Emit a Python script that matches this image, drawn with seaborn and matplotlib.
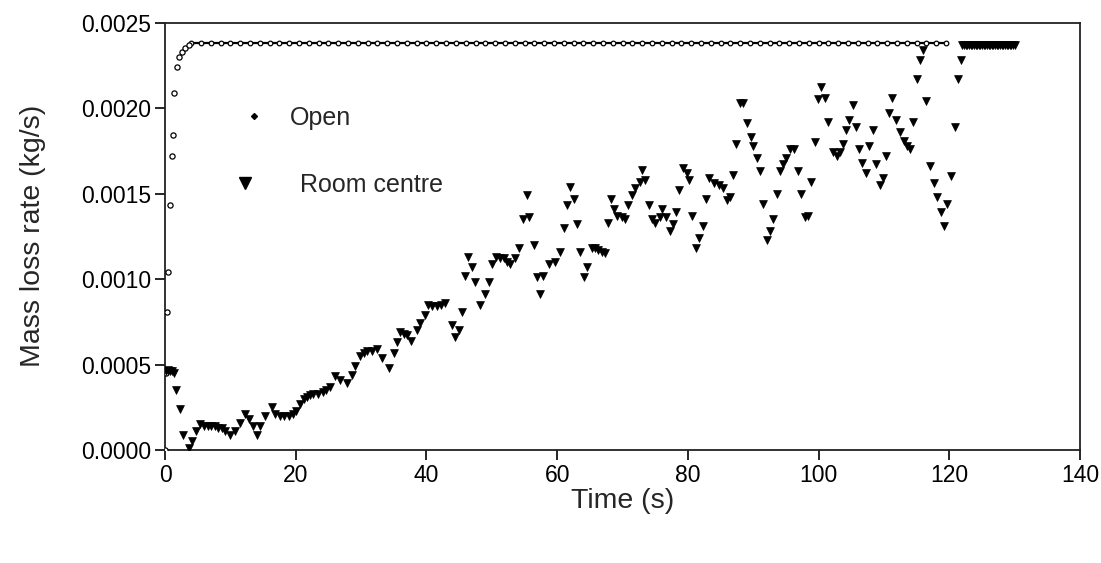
import numpy as np
import pandas as pd
import matplotlib
matplotlib.use("Agg")
import matplotlib.pyplot as plt
import seaborn as sns
from matplotlib.lines import Line2D

# === DATOS ===
# Open: subida rapida y luego meseta
open_rise_t = [0.0, 0.2, 0.35, 0.5, 0.8, 1.0, 1.2, 1.4, 1.8, 2.2, 2.6, 3.1, 3.6]
open_rise_v = [0.0, 0.00045, 0.00081, 0.00104, 0.00143, 0.00172, 0.00184,
               0.00209, 0.00224, 0.00230, 0.00233, 0.00235, 0.00237]
open_plateau_t = np.arange(4.0, 120.5, 1.5)
open_plateau_level = 0.00238

# Room centre
room_t = [0.2, 0.5, 0.8, 1.1, 1.4, 1.7, 2.3, 2.8, 3.7, 4.2, 4.7, 5.4, 5.9, 6.5, 7.0,
          7.6, 8.1, 8.7, 9.2, 9.9, 10.7, 11.5, 12.2, 12.9, 13.5, 14.1, 14.5, 15.3,
          16.3, 16.8, 17.6, 18.2, 18.9, 19.6, 20.1, 20.7, 21.2, 21.7, 22.2, 22.7,
          23.4, 24.2, 24.7, 25.2, 26.0, 26.8, 27.8, 28.6, 29.1, 29.8, 30.4, 30.9,
          31.6, 32.4, 33.2, 34.2, 35.0, 35.5, 36.0, 36.5, 37.0, 37.7, 38.5, 39.0,
          39.8, 40.3, 40.9, 41.6, 42.2, 42.8, 43.9, 44.4, 44.9, 45.4, 45.9, 46.3,
          46.9, 47.4, 48.2, 49.0, 49.6, 50.1, 50.7, 51.3, 51.8, 52.3, 52.8, 53.5,
          54.2, 54.7, 55.4, 55.7, 56.4, 56.9, 57.3, 57.8, 58.7, 59.7, 60.4, 61.0,
          61.5, 62.0, 62.6, 63.0, 63.5, 64.1, 64.5, 65.3, 65.8, 66.3, 66.8, 67.3,
          67.8, 68.3, 68.7, 69.2, 69.9, 70.4, 70.9, 71.4, 71.9, 72.6, 72.9, 73.4,
          74.1, 74.5, 75.0, 75.7, 76.1, 76.6, 77.2, 77.7, 78.1, 78.7, 79.3, 79.8,
          80.2, 80.7, 81.2, 81.7, 82.3, 82.8, 83.3, 84.0, 84.7, 85.4, 86.0, 86.4,
          86.9, 87.4, 88.0, 88.5, 89.0, 89.6, 90.0, 90.6, 91.1, 91.5, 92.1, 92.6,
          93.0, 93.7, 94.1, 94.5, 95.0, 95.6, 96.2, 96.9, 97.3, 97.9, 98.4, 98.8,
          99.4, 99.9, 100.4, 101.0, 101.5, 102.2, 102.8, 103.2, 103.7, 104.2,
          104.6, 105.2, 105.7, 106.1, 106.7, 107.2, 107.7, 108.3, 108.8, 109.4,
          109.8, 110.3, 110.8, 111.3, 111.8, 112.5, 113.0, 113.5, 114.0, 114.4,
          115.0, 115.5, 116.0, 116.5, 117.0, 117.6, 118.1, 118.7, 119.2, 119.7,
          120.2, 120.9, 121.3, 121.8]
room_v = [0.00046, 0.00047, 0.00046, 0.00046, 0.00045, 0.00035, 0.00024, 0.00009,
          0.00001, 0.00005, 0.00011, 0.00015, 0.00014, 0.00014, 0.00014, 0.00014,
          0.00013, 0.00013, 0.00011, 0.00009, 0.00011, 0.00016, 0.00021, 0.00018,
          0.00014, 0.00009, 0.00014, 0.00020, 0.00025, 0.00021, 0.00020, 0.00020,
          0.00020, 0.00021, 0.00023, 0.00027, 0.00030, 0.00031, 0.00032, 0.00033,
          0.00033, 0.00034, 0.00035, 0.00037, 0.00043, 0.00041, 0.00039, 0.00044,
          0.00049, 0.00055, 0.00057, 0.00058, 0.00058, 0.00059, 0.00054, 0.00048,
          0.00057, 0.00063, 0.00069, 0.00068, 0.00067, 0.00064, 0.00070, 0.00074,
          0.00079, 0.00085, 0.00084, 0.00084, 0.00085, 0.00086, 0.00073, 0.00066,
          0.00070, 0.00081, 0.00102, 0.00113, 0.00107, 0.00098, 0.00085, 0.00091,
          0.00098, 0.00109, 0.00113, 0.00112, 0.00112, 0.00110, 0.00109, 0.00112,
          0.00118, 0.00135, 0.00149, 0.00136, 0.00120, 0.00101, 0.00091, 0.00102,
          0.00109, 0.00110, 0.00116, 0.00130, 0.00143, 0.00154, 0.00147, 0.00132,
          0.00116, 0.00101, 0.00107, 0.00118, 0.00118, 0.00117, 0.00116, 0.00115,
          0.00133, 0.00147, 0.00141, 0.00137, 0.00136, 0.00135, 0.00143, 0.00149,
          0.00153, 0.00157, 0.00164, 0.00158, 0.00143, 0.00135, 0.00133, 0.00136,
          0.00141, 0.00136, 0.00128, 0.00132, 0.00139, 0.00152, 0.00165, 0.00162,
          0.00158, 0.00137, 0.00118, 0.00124, 0.00131, 0.00147, 0.00159, 0.00156,
          0.00155, 0.00153, 0.00146, 0.00148, 0.00161, 0.00179, 0.00203, 0.00203,
          0.00191, 0.00183, 0.00178, 0.00171, 0.00163, 0.00144, 0.00123, 0.00128,
          0.00135, 0.00150, 0.00163, 0.00167, 0.00171, 0.00176, 0.00176, 0.00163,
          0.00150, 0.00136, 0.00137, 0.00157, 0.00180, 0.00205, 0.00212, 0.00206,
          0.00192, 0.00174, 0.00172, 0.00174, 0.00179, 0.00187, 0.00193, 0.00202,
          0.00189, 0.00176, 0.00168, 0.00162, 0.00178, 0.00187, 0.00167, 0.00155,
          0.00159, 0.00172, 0.00197, 0.00206, 0.00193, 0.00186, 0.00181, 0.00178,
          0.00176, 0.00192, 0.00217, 0.00228, 0.00234, 0.00204, 0.00166, 0.00156,
          0.00148, 0.00139, 0.00131, 0.00144, 0.00160, 0.00189, 0.00217, 0.00228]
room_tail_t = np.arange(122.0, 130.1, 0.25)
room_tail_level = 0.00237

# === TABLAS ===
df_rise = pd.DataFrame({"t": open_rise_t, "v": open_rise_v})
df_plateau = pd.DataFrame({"t": open_plateau_t,
                           "v": [open_plateau_level] * len(open_plateau_t)})
df_room = pd.DataFrame({
    "t": list(room_t) + list(room_tail_t),
    "v": list(room_v) + [room_tail_level] * len(room_tail_t),
})

# === FIGURA ===
sns.set_theme(style="ticks")
plt.rcParams["font.family"] = ["Liberation Sans", "DejaVu Sans"]

fig = plt.figure(figsize=(11.01, 5.63), dpi=100)
ax = fig.add_axes([0.1499, 0.2007, 0.8311, 0.7593])

# Open: linea de la meseta + marcadores
sns.lineplot(data=df_plateau, x="t", y="v", ax=ax, color="black",
             linewidth=1.6, estimator=None, zorder=2)
sns.scatterplot(data=df_plateau, x="t", y="v", ax=ax, marker="o", s=11,
                facecolor="white", edgecolor="black", linewidth=0.9, zorder=3)
sns.scatterplot(data=df_rise, x="t", y="v", ax=ax, marker="o", s=14,
                facecolor="white", edgecolor="black", linewidth=0.9, zorder=3)
# Room centre
sns.scatterplot(data=df_room, x="t", y="v", ax=ax, marker="v", s=32,
                color="black", edgecolor="black", linewidth=0.5, zorder=4)

ax.set_xlim(0, 140)
ax.set_ylim(0, 0.0025)
ax.set_xticks([0, 20, 40, 60, 80, 100, 120, 140])
ax.set_yticks([0.0, 0.0005, 0.0010, 0.0015, 0.0020, 0.0025])
ax.set_yticklabels(["0.0000", "0.0005", "0.0010", "0.0015", "0.0020", "0.0025"])
ax.set_xlabel("Time (s)", fontsize=20.5, labelpad=1)
ax.set_ylabel("Mass loss rate (kg/s)", fontsize=20.5, labelpad=25)
ax.tick_params(axis="both", direction="out", length=7, width=1.2,
               labelsize=16.5, colors="black", pad=3)
for sp in ax.spines.values():
    sp.set_visible(True)
    sp.set_color("#222222")
    sp.set_linewidth(1.3)

# leyenda: dos entradas colocadas por separado
leg_open = ax.legend([Line2D([], [], marker="D", ls="", color="black", markersize=3)],
                     ["Open"], loc="center left",
                     bbox_to_anchor=(219 / 1101, 1 - 118 / 563),
                     bbox_transform=fig.transFigure, frameon=False, fontsize=18,
                     handlelength=1.0, handletextpad=0.94, borderpad=0.4)
ax.add_artist(leg_open)
ax.legend([Line2D([], [], marker="v", ls="", color="black", markersize=8)],
          ["Room centre"], loc="center left",
          bbox_to_anchor=(210 / 1101, 1 - 185 / 563),
          bbox_transform=fig.transFigure, frameon=False, fontsize=18,
          handlelength=1.0, handletextpad=1.7, borderpad=0.4)

fig.savefig("out.png", dpi=100)
